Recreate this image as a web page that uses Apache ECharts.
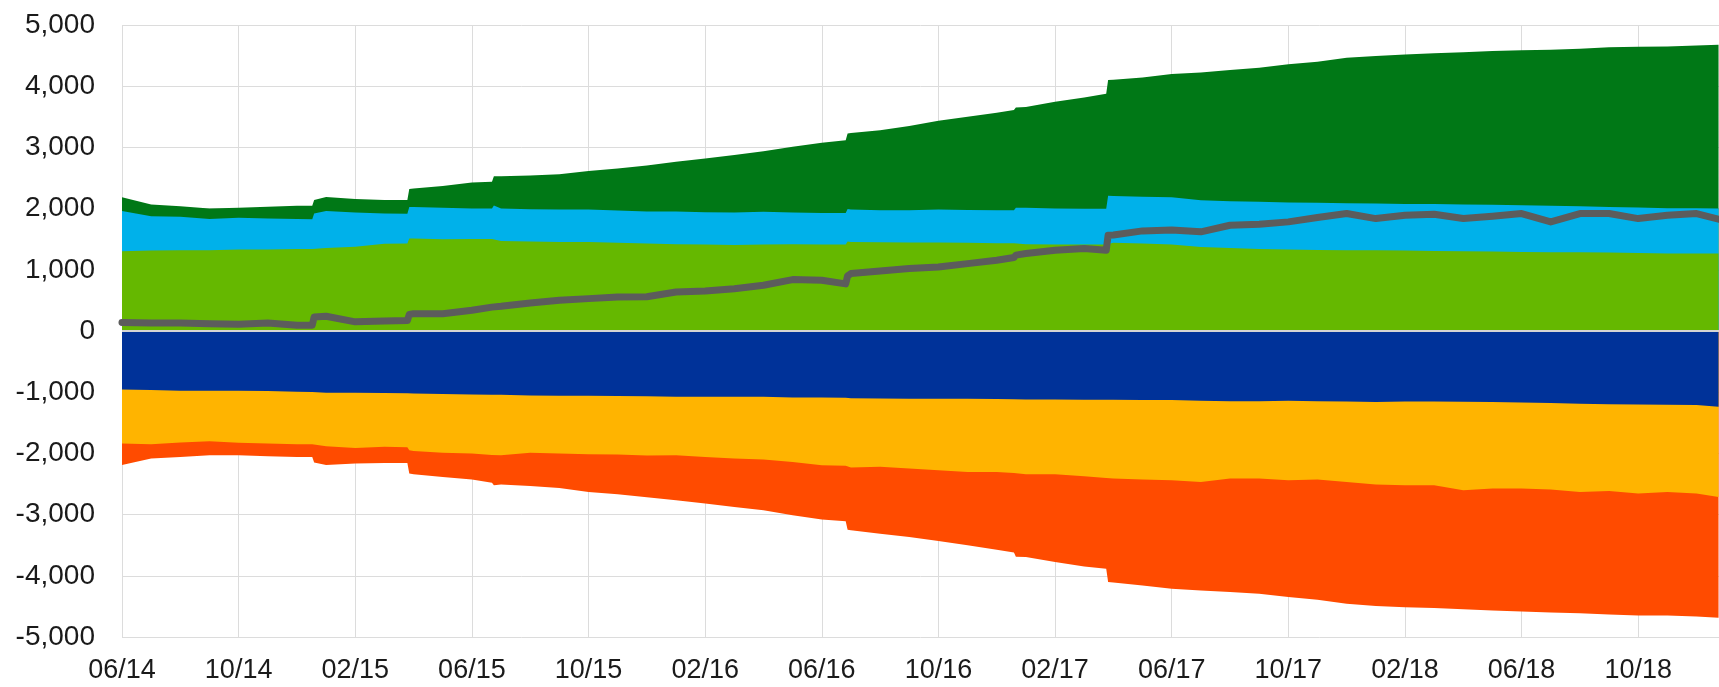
<!DOCTYPE html>
<html>
<head>
<meta charset="utf-8">
<script src="https://cdn.jsdelivr.net/npm/echarts@6/dist/echarts.min.js"></script>
<style>
html,body{margin:0;padding:0;background:#fff;}
#chart{width:1719px;height:687px;}
</style>
</head>
<body>
<div id="chart"></div>
<script>
// Observation dates
const dates = [
'2014-06-01','2014-07-01','2014-08-01','2014-09-01','2014-10-01','2014-11-01','2014-12-01','2014-12-17','2014-12-19',
'2015-01-01','2015-02-01','2015-03-01','2015-03-25','2015-03-27','2015-04-01','2015-05-01','2015-06-01','2015-06-22','2015-06-24',
'2015-07-01','2015-08-01','2015-09-01','2015-10-01','2015-11-01','2015-12-01',
'2016-01-01','2016-02-01','2016-03-01','2016-04-01','2016-05-01','2016-06-01','2016-06-26','2016-06-28',
'2016-07-01','2016-08-01','2016-09-01','2016-10-01','2016-11-01','2016-12-01','2016-12-19','2016-12-21',
'2017-01-01','2017-02-01','2017-03-01','2017-03-24','2017-03-26','2017-04-01','2017-05-01','2017-06-01',
'2017-07-01','2017-08-01','2017-09-01','2017-10-01','2017-11-01','2017-12-01',
'2018-01-01','2018-02-01','2018-03-01','2018-04-01','2018-05-01','2018-06-01',
'2018-07-01','2018-08-01','2018-09-01','2018-10-01','2018-11-01','2018-12-01','2018-12-24'
];

// Positive components (stacked, bottom to top)
const lightGreen = [
1303,1315,1320,1320,1330,1330,1340,1341,1341,
1355,1375,1425,1428,1510,1510,1500,1505,1505,1505,
1472,1461,1456,1456,1440,1428,
1418,1412,1407,1412,1418,1412,1412,1461,
1456,1450,1445,1445,1440,1434,1434,1430,
1418,1412,1412,1412,1440,1440,1428,1415,
1374,1358,1341,1330,1325,1320,
1320,1314,1309,1303,1298,1292,
1287,1287,1281,1276,1268,1265,1268
];
const lightBlue = [
657,560,545,510,520,510,490,486,579,
605,560,495,487,518,518,512,495,495,545,
528,529,529,529,528,524,
534,529,529,535,518,518,518,534,
529,524,529,540,539,540,540,582,
594,588,584,584,768,765,764,770,
763,763,769,769,769,768,
763,763,768,763,763,764,
758,752,747,741,738,741,732
];
const darkGreen = [
225,190,175,170,165,190,215,218,220,
230,220,220,225,292,302,358,425,440,480,
530,550,575,630,687,753,
813,879,938,992,1074,1145,1185,1233,
1250,1308,1374,1450,1521,1592,1636,1638,
1648,1746,1821,1879,1892,1900,1952,2015,
2088,2143,2192,2258,2306,2378,
2410,2443,2460,2487,2514,2530,
2552,2574,2607,2629,2644,2661,2678
];

// Negative components (stacked, top to bottom)
const darkBlue = [
-955,-965,-977,-977,-977,-982,-993,-995,-1005,
-1010,-1010,-1015,-1018,-1020,-1020,-1031,-1037,-1040,-1040,
-1042,-1053,-1058,-1058,-1064,-1066,
-1075,-1075,-1075,-1075,-1086,-1086,-1090,-1092,
-1097,-1102,-1107,-1107,-1107,-1113,-1115,-1117,
-1119,-1119,-1124,-1124,-1124,-1124,-1129,-1129,
-1140,-1146,-1146,-1140,-1146,-1151,
-1162,-1151,-1151,-1157,-1162,-1168,
-1178,-1189,-1195,-1200,-1206,-1211,-1238
];
const orange = [
-883,-885,-845,-823,-851,-856,-857,-855,-850,
-872,-900,-878,-882,-930,-939,-960,-965,-985,-990,
-988,-938,-944,-955,-955,-969,
-955,-982,-1009,-1025,-1053,-1107,-1110,-1118,
-1134,-1118,-1141,-1168,-1195,-1189,-1205,-1213,
-1221,-1221,-1249,-1276,-1281,-1287,-1299,-1311,
-1326,-1265,-1265,-1299,-1282,-1315,
-1348,-1370,-1370,-1445,-1413,-1407,
-1413,-1441,-1418,-1457,-1424,-1446,-1473
];
const red = [
-352,-234,-235,-230,-202,-208,-207,-210,-295,
-308,-256,-262,-255,-380,-381,-393,-426,-455,-490,
-480,-540,-562,-617,-649,-680,
-736,-763,-791,-830,-872,-889,-910,-1036,
-1026,-1092,-1118,-1157,-1200,-1271,-1300,-1360,
-1353,-1435,-1473,-1484,-1698,-1699,-1729,-1772,
-1773,-1855,-1883,-1909,-1964,-1991,
-1985,-1991,-2007,-1943,-1991,-2008,
-2008,-1980,-2019,-1991,-2020,-2007,-1975
];

// Net line
const net = [
140,130,130,120,109,130,93,95,230,
240,150,164,170,270,283,283,338,390,400,
403,458,502,529,556,560,
638,654,692,747,840,829,770,900,
938,981,1020,1047,1101,1156,1200,1240,
1265,1320,1347,1320,1565,1570,1636,1650,
1620,1728,1745,1783,1854,1919,
1837,1892,1908,1837,1876,1919,
1783,1919,1919,1837,1892,1919,1827
];

const yTicks = {min:-5000, max:5000, interval:1000};
const xStartYear = 2014, xStartMonth = 6, xEndMonthIdx = 54.77, xTickMonths = 4;

function monthIdx(s){
  const p = s.split('-').map(Number);
  return (p[0]-xStartYear)*12 + (p[1]-xStartMonth) + (p[2]-1)/30.5;
}
const xs = dates.map(monthIdx);
const pair = arr => arr.map((v,i)=>[xs[i], v]);
// running stack totals (the band boundaries) built from the component arrays
function stackTotals(list){
  const out = []; let acc = dates.map(()=>0);
  list.forEach(arr => { acc = acc.map((a,i)=>a+arr[i]); out.push(acc.slice()); });
  return out;
}
const [posL1, posL2, posL3] = stackTotals([lightGreen, lightBlue, darkGreen]);
const [negL1, negL2, negL3] = stackTotals([darkBlue, orange, red]);

function xLabel(v){
  if (Math.abs(v - Math.round(v)) > 1e-6) return '';
  const total = xStartMonth - 1 + Math.round(v);
  const y = xStartYear + Math.floor(total/12);
  const m = total % 12 + 1;
  return String(m).padStart(2,'0') + '/' + String(y % 100).padStart(2,'0');
}

const font = '"Liberation Sans", Arial, sans-serif';
function area(name, data, color, z){
  return {
    name, type:'line', data: pair(data), z,
    symbol:'none', smooth:false,
    lineStyle:{width:0, color},
    itemStyle:{color},
    areaStyle:{color, opacity:1, origin:0}
  };
}

const chart = echarts.init(document.getElementById('chart'), null, {renderer:'canvas'});
const series = [
  area('darkGreen', posL3, '#007816', 2),
  area('lightBlue', posL2, '#00B1EA', 2),
  area('lightGreen', posL1, '#65B800', 2),
  area('red', negL3, '#FF4B00', 2),
  area('orange', negL2, '#FFB400', 2),
  area('darkBlue', negL1, '#003299', 2),
  {
    name:'net', type:'line', data: pair(net), symbol:'none', z:5,
    lineStyle:{width:7, color:'#5C5C5C', join:'round', cap:'round'},
    itemStyle:{color:'#5C5C5C'}
  }
];
series[5].markLine = {
  silent:true, symbol:'none', label:{show:false},
  lineStyle:{color:'#d4d4d4', width:2, type:'solid'},
  data:[{yAxis:0}]
};

chart.setOption({
  animation:false,
  backgroundColor:'#ffffff',
  grid:{left:122, right:0, top:25, bottom:50, containLabel:false},
  xAxis:{
    type:'value', min:0, max:xEndMonthIdx, interval:xTickMonths,
    axisLine:{show:false}, axisTick:{show:false},
    splitLine:{show:true, lineStyle:{color:'#dcdcdc', width:1}},
    axisLabel:{formatter:xLabel, showMaxLabel:false, color:'#1a1a1a', fontSize:27, fontFamily:font, margin:20}
  },
  yAxis:{
    type:'value', min:yTicks.min, max:yTicks.max, interval:yTicks.interval,
    axisLine:{show:false}, axisTick:{show:false},
    splitLine:{show:true, lineStyle:{color:'#dcdcdc', width:1}},
    axisLabel:{formatter:v=>v.toLocaleString('en-US'), color:'#1a1a1a', fontSize:28, fontFamily:font, margin:27}
  },
  series
});
</script>
</body>
</html>
